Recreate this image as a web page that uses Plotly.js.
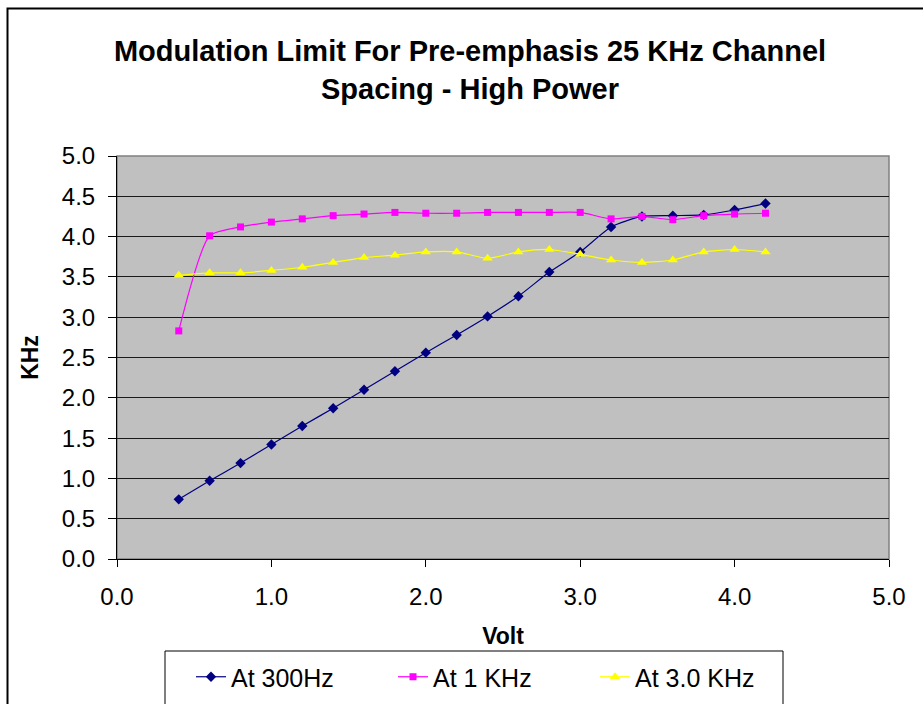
<!DOCTYPE html>
<html>
<head>
<meta charset="utf-8">
<script src="https://cdn.plot.ly/plotly-3.0.1.min.js"></script>
<style>
  html, body { margin: 0; padding: 0; background: #fff; }
  #chart { width: 923px; height: 704px; }
</style>
</head>
<body>
<div id="chart"></div>
<script>
// Data
const volts = [0.4, 0.6, 0.8, 1.0, 1.2, 1.4, 1.6, 1.8, 2.0, 2.2, 2.4, 2.6, 2.8, 3.0, 3.2, 3.4, 3.6, 3.8, 4.0, 4.2];
const at300Hz = [0.74, 0.97, 1.19, 1.42, 1.65, 1.87, 2.10, 2.33, 2.56, 2.78, 3.01, 3.26, 3.56, 3.81, 4.12, 4.25, 4.26, 4.27, 4.33, 4.41];
const at1KHz  = [2.83, 4.01, 4.12, 4.18, 4.22, 4.26, 4.28, 4.30, 4.29, 4.29, 4.30, 4.30, 4.30, 4.30, 4.22, 4.25, 4.21, 4.26, 4.28, 4.29];
const at3KHz  = [3.52, 3.55, 3.55, 3.58, 3.62, 3.68, 3.74, 3.77, 3.81, 3.81, 3.73, 3.81, 3.84, 3.78, 3.71, 3.68, 3.71, 3.81, 3.84, 3.81];
const seriesNames = ["At 300Hz", "At 1 KHz", "At 3.0 KHz"];
const xTicks = [0, 1, 2, 3, 4, 5];
const yTicks = [0, 0.5, 1, 1.5, 2, 2.5, 3, 3.5, 4, 4.5, 5];

const FONT = "Liberation Sans, Arial, Helvetica, sans-serif";

function trace(y, name, color, symbol, size) {
  return {
    x: volts, y: y, name: name, type: "scatter", mode: "lines+markers",
    line: { color: color, width: 1.2, shape: "spline", smoothing: 0.6 },
    marker: { color: color, symbol: symbol, size: size, line: { width: 0 } }
  };
}

const data = [
  trace(at300Hz, seriesNames[0], "#000080", "diamond", 8),
  trace(at1KHz, seriesNames[1], "#FF00FF", "square", 7),
  trace(at3KHz, seriesNames[2], "#FFFF00", "triangle-up", 9)
];

const L = 117, R = 889, T = 156, B = 559, W = 923, H = 704;
const px2x = p => (p - L) / (R - L);
const py2y = p => (B - p) / (B - T);

const layout = {
  width: W, height: H,
  margin: { l: L, r: W - R, t: T, b: H - B, pad: 0, autoexpand: false },
  paper_bgcolor: "#ffffff",
  plot_bgcolor: "#C0C0C0",
  font: { family: FONT, color: "#000" },
  title: {
    text: "<b>Modulation Limit For Pre-emphasis 25 KHz Channel<br>Spacing - High Power</b>",
    font: { family: FONT, size: 29, color: "#000" },
    xref: "container", x: 470 / W, xanchor: "center",
    yref: "container", y: 1 - 61 / H, yanchor: "top",
    automargin: false
  },
  xaxis: {
    range: [0, 5], tickvals: xTicks, ticktext: xTicks.map(v => v.toFixed(1)),
    showgrid: false, zeroline: false, automargin: false,
    showline: true, linecolor: "#000", linewidth: 1,
    ticks: "outside", ticklen: 7, tickcolor: "#000", tickwidth: 1,
    ticklabelstandoff: 9,
    tickfont: { family: FONT, size: 24, color: "#000" },
    title: { text: "<b>Volt</b>", font: { family: FONT, size: 23, color: "#000" }, standoff: 19 },
    fixedrange: true
  },
  yaxis: {
    range: [0, 5], tickvals: yTicks, ticktext: yTicks.map(v => v.toFixed(1)),
    showgrid: true, gridcolor: "#1a1a1a", gridwidth: 1,
    zeroline: false, automargin: false,
    showline: true, linecolor: "#000", linewidth: 1,
    ticks: "outside", ticklen: 8, tickcolor: "#000", tickwidth: 1,
    ticklabelstandoff: 8,
    tickfont: { family: FONT, size: 24, color: "#000" },
    title: { text: "<b>KHz</b>", font: { family: FONT, size: 23, color: "#000" }, standoff: 16 },
    fixedrange: true
  },
  showlegend: true,
  legend: {
    orientation: "h",
    x: px2x(191), xanchor: "left",
    y: py2y(654), yanchor: "top",
    bgcolor: "rgba(0,0,0,0)", borderwidth: 0,
    font: { family: FONT, size: 25, color: "#000" },
    entrywidth: 157, entrywidthmode: "pixels",
    itemwidth: 30
  },
  shapes: [
    { type: "rect", xref: "paper", yref: "paper", x0: 0, x1: 1, y0: 0, y1: 1,
      line: { color: "#808080", width: 1.5 }, fillcolor: "rgba(0,0,0,0)", layer: "below" },
    { type: "rect", xref: "paper", yref: "paper",
      x0: px2x(165), x1: px2x(783), y0: py2y(730), y1: py2y(651),
      line: { color: "#000", width: 1 }, fillcolor: "rgba(0,0,0,0)", layer: "above" },
    { type: "rect", xref: "paper", yref: "paper",
      x0: px2x(7.5), x1: px2x(1000), y0: py2y(1000), y1: py2y(8.5),
      line: { color: "#000", width: 2 }, fillcolor: "rgba(0,0,0,0)", layer: "above" }
  ]
};

Plotly.newPlot("chart", data, layout, { staticPlot: true, displayModeBar: false });
</script>
</body>
</html>
